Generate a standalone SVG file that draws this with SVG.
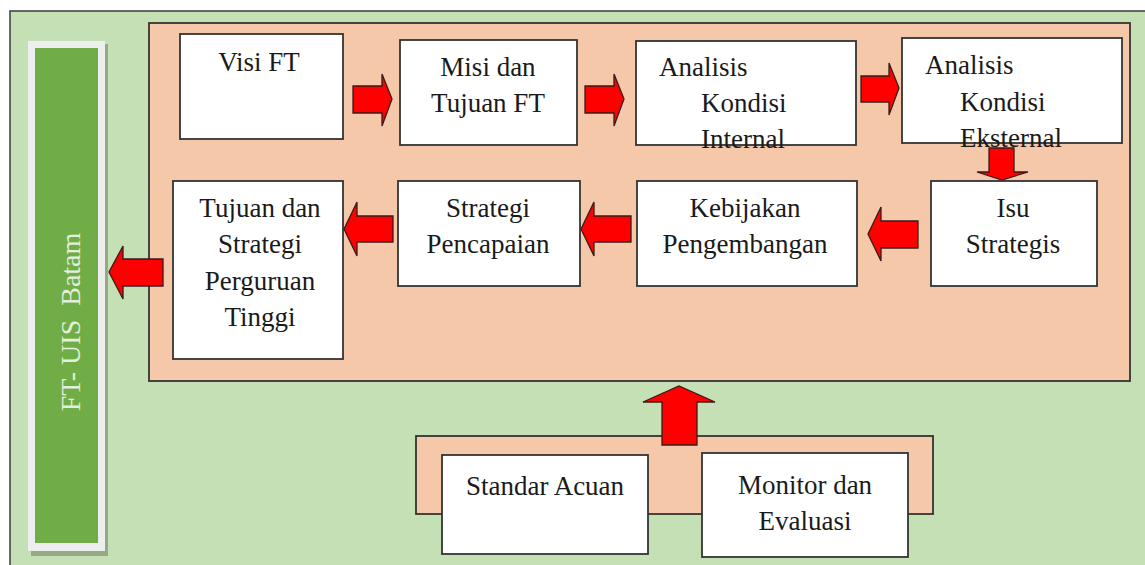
<svg xmlns="http://www.w3.org/2000/svg" width="1145" height="565" viewBox="0 0 1145 565">
<style>
.bg{fill:#c5e0b4;stroke:#3a3a3a;stroke-width:1.5}
.peach{fill:#f6c8aa;stroke:#333;stroke-width:1.8}
.box{fill:#fff;stroke:#333;stroke-width:1.8}
.arr{fill:#ff0000;stroke:#3a1a1a;stroke-width:1.3;stroke-linejoin:miter}
.t{font-family:"Liberation Serif","Times New Roman",serif;font-size:27px;fill:#1a1a1a}
.c{text-anchor:middle}
</style>
<rect width="1145" height="565" fill="#ffffff"/>
<rect class="bg" x="10" y="11" width="1145" height="570"/>
<g id="ftuis">
<rect x="31" y="44" width="77" height="512" fill="#93ab82"/>
<rect x="28" y="41" width="77" height="510" fill="#eeeeee"/>
<rect x="35" y="48" width="63" height="495" fill="#70ad47"/>
<text class="t" transform="translate(80,322) rotate(-90)" text-anchor="middle" style="fill:#e2efda;font-size:28px;white-space:pre" xml:space="preserve">FT- UIS  Batam</text>
</g>
<g id="main-panel">
<rect class="peach" x="149" y="23" width="981" height="358"/>
</g>
<g id="bottom-panel">
<rect class="peach" x="416" y="436" width="517" height="78"/>
</g>
<g id="visi">
<rect class="box" x="180" y="34" width="163" height="105"/>
<text class="t c" x="259" y="71">Visi FT</text>
</g>
<g id="misi">
<rect class="box" x="400" y="40" width="177" height="105"/>
<text class="t c" x="488" y="76">Misi dan</text>
<text class="t c" x="488" y="112">Tujuan FT</text>
</g>
<g id="internal">
<rect class="box" x="636" y="41" width="220" height="104"/>
<text class="t" x="659" y="76">Analisis</text>
<text class="t" x="701" y="112">Kondisi</text>
<text class="t" x="701" y="148">Internal</text>
</g>
<g id="eksternal">
<rect class="box" x="902" y="38" width="220" height="105"/>
<text class="t" x="925" y="74">Analisis</text>
<text class="t" x="960" y="111">Kondisi</text>
<text class="t" x="960" y="147">Eksternal</text>
</g>
<g id="tujuan">
<rect class="box" x="173" y="181" width="170" height="178"/>
<text class="t c" x="260" y="217">Tujuan dan</text>
<text class="t c" x="260" y="253">Strategi</text>
<text class="t c" x="260" y="290">Perguruan</text>
<text class="t c" x="260" y="326">Tinggi</text>
</g>
<g id="strategi">
<rect class="box" x="398" y="181" width="182" height="105"/>
<text class="t c" x="488" y="217">Strategi</text>
<text class="t c" x="488" y="253">Pencapaian</text>
</g>
<g id="kebijakan">
<rect class="box" x="637" y="181" width="220" height="105"/>
<text class="t c" x="745" y="217">Kebijakan</text>
<text class="t c" x="745" y="253">Pengembangan</text>
</g>
<g id="isu">
<rect class="box" x="931" y="181" width="166" height="105"/>
<text class="t c" x="1013" y="217">Isu</text>
<text class="t c" x="1013" y="253">Strategis</text>
</g>
<g id="connectors">
<polygon class="arr" points="353,86 382,86 382,74 392,99 382,126 382,113 353,113"/>
<polygon class="arr" points="585,86 614,86 614,74 624,99 614,126 614,113 585,113"/>
<polygon class="arr" points="861,76 889,76 889,63 899,88 889,115 889,102 861,102"/>
<polygon class="arr" points="989,148 1014,148 1014,172 1028,172 1002,180 977,172 989,172"/>
<polygon class="arr" points="918,221 881,221 881,207 868,234 881,261 881,248 918,248"/>
<polygon class="arr" points="631,216 594,216 594,202 581,229 594,256 594,242 631,242"/>
<polygon class="arr" points="393,216 357,216 357,202 344,229 357,256 357,242 393,242"/>
<polygon class="arr" points="163,259 123,259 123,246 109,272 123,299 123,286 163,286"/>
<polygon class="arr" points="662,445 662,402 643,402 679,386 715,402 697,402 697,445"/>
</g>
<g id="standar">
<rect class="box" x="442" y="455" width="206" height="99"/>
<text class="t c" x="545" y="495">Standar Acuan</text>
</g>
<g id="monitor">
<rect class="box" x="702" y="453" width="206" height="104"/>
<text class="t c" x="805" y="494">Monitor dan</text>
<text class="t c" x="805" y="530">Evaluasi</text>
</g>
</svg>
